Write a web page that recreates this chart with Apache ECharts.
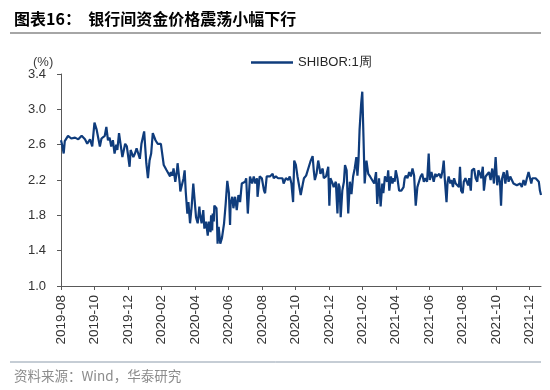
<!DOCTYPE html>
<html>
<head>
<meta charset="utf-8">
<script src="https://cdn.jsdelivr.net/npm/echarts@6/dist/echarts.min.js"></script>
<style>
html, body { margin: 0; padding: 0; background: #fff; }
#chart { width: 550px; height: 390px; }
</style>
</head>
<body>
<div id="chart"></div>
<script>
// SHIBOR 1周
var dates = [
	'2019-08-01','2019-08-03','2019-08-06','2019-08-08','2019-08-14','2019-08-20','2019-08-27',
	'2019-09-02','2019-09-08','2019-09-14','2019-09-18','2019-09-23','2019-09-27',
	'2019-10-01','2019-10-05','2019-10-11','2019-10-14','2019-10-20','2019-10-23','2019-10-26','2019-10-29',
	'2019-11-01','2019-11-04','2019-11-07','2019-11-10','2019-11-12','2019-11-15','2019-11-21','2019-11-26','2019-11-29',
	'2019-12-04','2019-12-06','2019-12-11','2019-12-14','2019-12-17','2019-12-20','2019-12-23','2019-12-26','2019-12-29','2019-12-31',
	'2020-01-04','2020-01-07','2020-01-10','2020-01-13','2020-01-16','2020-01-21','2020-01-25','2020-01-31',
	'2020-02-05','2020-02-10','2020-02-13','2020-02-16','2020-02-17','2020-02-20','2020-02-22','2020-02-25','2020-02-28','2020-02-29',
	'2020-03-04','2020-03-05','2020-03-08','2020-03-11','2020-03-13','2020-03-15','2020-03-18','2020-03-20','2020-03-23','2020-03-26','2020-03-29','2020-03-31',
	'2020-04-03','2020-04-06','2020-04-09','2020-04-10','2020-04-13','2020-04-16','2020-04-18','2020-04-21','2020-04-24','2020-04-26','2020-04-29','2020-04-30',
	'2020-05-02','2020-05-03','2020-05-05','2020-05-06','2020-05-10','2020-05-11','2020-05-12','2020-05-14','2020-05-17','2020-05-20','2020-05-22','2020-05-24','2020-05-27','2020-05-30',
	'2020-06-02','2020-06-04','2020-06-05','2020-06-08','2020-06-10','2020-06-13','2020-06-16','2020-06-19','2020-06-22','2020-06-25','2020-06-28',
	'2020-07-01','2020-07-03','2020-07-06','2020-07-07','2020-07-10','2020-07-14','2020-07-17','2020-07-20','2020-07-23','2020-07-24','2020-07-28',
	'2020-08-01','2020-08-05','2020-08-07','2020-08-10','2020-08-13','2020-08-16','2020-08-21','2020-08-23','2020-08-27','2020-08-31',
	'2020-09-03','2020-09-08','2020-09-10','2020-09-14','2020-09-18','2020-09-21','2020-09-24','2020-09-27','2020-09-29',
	'2020-10-02','2020-10-05','2020-10-08','2020-10-11','2020-10-15','2020-10-17','2020-10-21','2020-10-23','2020-10-27','2020-10-29',
	'2020-11-02','2020-11-04','2020-11-06','2020-11-09','2020-11-12','2020-11-14','2020-11-16','2020-11-18','2020-11-20','2020-11-22','2020-11-26','2020-11-30',
	'2020-12-02','2020-12-04','2020-12-08','2020-12-10','2020-12-14','2020-12-17','2020-12-19','2020-12-21','2020-12-23','2020-12-26','2020-12-29','2020-12-31',
	'2021-01-03','2021-01-06','2021-01-09','2021-01-12','2021-01-15','2021-01-18','2021-01-21','2021-01-23','2021-01-25','2021-01-27','2021-01-30',
	'2021-02-01','2021-02-03','2021-02-05','2021-02-08','2021-02-11','2021-02-14','2021-02-17','2021-02-21','2021-02-24','2021-02-26',
	'2021-03-01','2021-03-04','2021-03-07','2021-03-09','2021-03-12','2021-03-16','2021-03-18','2021-03-20','2021-03-23','2021-03-26','2021-03-28','2021-03-30',
	'2021-04-01','2021-04-04','2021-04-07','2021-04-09','2021-04-11','2021-04-15','2021-04-17','2021-04-19','2021-04-22','2021-04-25','2021-04-28',
	'2021-05-01','2021-05-04','2021-05-07','2021-05-10','2021-05-13','2021-05-16','2021-05-19','2021-05-22','2021-05-25','2021-05-28','2021-05-31',
	'2021-06-02','2021-06-05','2021-06-06','2021-06-09','2021-06-12','2021-06-14','2021-06-16','2021-06-19','2021-06-22','2021-06-25','2021-06-27','2021-06-29',
	'2021-07-02','2021-07-04','2021-07-06','2021-07-09','2021-07-11','2021-07-14','2021-07-16','2021-07-19','2021-07-22','2021-07-25','2021-07-27','2021-07-29',
	'2021-08-01','2021-08-03','2021-08-06','2021-08-08','2021-08-11','2021-08-13','2021-08-16','2021-08-18','2021-08-22','2021-08-25','2021-08-28','2021-08-30',
	'2021-09-02','2021-09-04','2021-09-07','2021-09-09','2021-09-12','2021-09-15','2021-09-18','2021-09-21','2021-09-22','2021-09-24','2021-09-27','2021-09-30',
	'2021-10-03','2021-10-05','2021-10-08','2021-10-10','2021-10-12','2021-10-15','2021-10-18','2021-10-21','2021-10-24','2021-10-27','2021-10-30',
	'2021-11-02','2021-11-05','2021-11-08','2021-11-11','2021-11-14','2021-11-17','2021-11-20','2021-11-23','2021-11-26','2021-11-29',
	'2021-12-01','2021-12-04','2021-12-06','2021-12-09','2021-12-12','2021-12-15','2021-12-18','2021-12-20','2021-12-22'
];
var values = [
	2.65,2.60,2.50,2.64,2.70,2.67,2.68,
	2.66,2.70,2.66,2.61,2.66,2.58,
	2.85,2.77,2.58,2.67,2.70,2.80,2.65,2.68,
	2.58,2.65,2.50,2.60,2.54,2.73,2.46,2.61,2.58,
	2.35,2.54,2.46,2.50,2.56,2.58,2.44,2.61,2.60,2.75,
	2.39,2.22,2.42,2.50,2.73,2.65,2.61,2.61,
	2.37,2.31,2.33,2.24,2.29,2.25,2.33,2.18,2.31,2.39,
	2.16,2.07,2.05,2.22,2.31,2.07,1.82,1.95,1.71,1.90,2.16,2.18,
	1.78,1.71,1.90,1.82,1.71,1.86,1.65,1.73,1.57,1.73,1.61,1.80,
	1.63,1.82,1.73,1.91,1.88,1.71,1.48,1.67,1.48,1.54,1.56,1.71,1.93,2.19,
	2.05,1.69,1.93,2.01,1.88,2.01,1.86,2.03,1.95,2.16,2.16,
	2.18,2.22,1.82,1.80,2.24,2.16,2.24,2.16,2.22,2.01,2.24,
	2.22,2.08,2.05,2.24,2.22,2.24,2.27,2.22,2.24,2.22,
	2.24,2.22,2.16,2.22,2.20,2.24,2.16,1.95,2.42,
	2.37,2.24,2.22,2.03,2.16,2.22,2.25,2.24,2.37,2.41,
	2.47,2.31,2.20,2.27,2.42,2.35,2.27,2.25,2.33,2.22,2.24,2.35,
	1.91,2.22,2.16,2.12,2.18,1.82,2.16,2.12,1.78,2.08,2.18,2.37,
	2.31,1.82,2.18,2.04,2.24,2.33,2.46,2.25,2.42,2.77,3.07,
	3.20,2.69,2.16,2.42,2.27,2.24,2.24,2.16,2.29,1.93,
	2.22,1.90,2.16,2.05,2.24,2.18,2.31,2.08,2.24,2.16,2.22,2.18,
	2.31,2.22,2.08,2.07,2.08,2.12,2.22,2.25,2.22,2.29,2.24,
	2.33,2.25,1.91,2.12,2.18,2.24,2.27,2.18,2.22,2.18,2.50,
	2.20,2.29,2.27,2.18,2.27,2.24,2.22,2.27,2.22,2.31,2.42,2.20,
	1.95,2.18,2.24,2.16,2.20,2.12,2.22,2.16,2.18,2.12,2.35,2.08,
	2.05,2.18,2.22,2.20,2.14,2.22,2.08,2.31,2.33,2.22,2.18,2.31,
	2.27,2.22,2.35,2.08,2.24,2.22,2.29,2.20,2.25,2.33,2.16,2.46,
	2.14,2.25,2.18,1.91,2.22,2.29,2.16,2.31,2.18,2.24,2.20,
	2.16,2.14,2.14,2.12,2.16,2.12,2.20,2.14,2.22,2.29,
	2.31,2.16,2.22,2.20,2.22,2.20,2.18,2.08,2.03
];
var tickLabels = ['2019-08','2019-10','2019-12','2020-02','2020-04','2020-06','2020-08','2020-10',
	'2020-12','2021-02','2021-04','2021-06','2021-08','2021-10','2021-12'];
var yTicks = [1.0, 1.4, 1.8, 2.2, 2.6, 3.0, 3.4];
var seriesName = 'SHIBOR:1周';
var startDate = '2019-08-01';
var endDate = '2021-12-22';

// 日期 -> 自起始月起的月数(含月内小数)
function toMonths(s) {
	var p = s.split('-');
	var y = +p[0], m = +p[1], d = +p[2];
	var dim = new Date(y, m, 0).getDate();
	var s0 = startDate.split('-');
	return (y - +s0[0]) * 12 + (m - +s0[1]) + (d - 1) / dim;
}

var lineData = dates.map(function (d, i) { return [toMonths(d), values[i]]; });

var chart = echarts.init(document.getElementById('chart'), null, { renderer: 'canvas' });

var option = {
	animation: false,
	backgroundColor: '#fff',
	title: [
		{
			text: '图表16：  银行间资金价格震荡小幅下行',
			left: 9, top: 6,
			textStyle: { fontFamily: 'Noto Sans CJK SC', fontSize: 16, fontWeight: 'bold', color: '#000' }
		},
		{
			text: '资料来源：Wind，华泰研究',
			left: 9, top: 364,
			textStyle: { fontFamily: 'Noto Sans CJK SC', fontSize: 13.5, fontWeight: 'normal', color: '#8c8c8c' }
		},
		{
			text: '(%)',
			left: 28, top: 51,
			textStyle: { fontFamily: 'Liberation Sans', fontSize: 13, fontWeight: 'normal', color: '#404040' }
		}
	],
	graphic: [
		{ type: 'line', shape: { x1: 10, y1: 33, x2: 541, y2: 33 }, style: { stroke: '#a6a6a6', lineWidth: 2 } },
		{ type: 'line', shape: { x1: 10, y1: 362, x2: 541, y2: 362 }, style: { stroke: '#8c9bab', lineWidth: 1 } }
	],
	legend: {
		data: [seriesName],
		left: 246, top: 51,
		icon: 'rect',
		itemWidth: 42, itemHeight: 2.5,
		textStyle: { fontFamily: 'Liberation Sans', fontSize: 13, color: '#262626' }
	},
	grid: { left: 61, right: 9, top: 74, bottom: 104, containLabel: false },
	xAxis: {
		type: 'value',
		min: 0,
		max: toMonths(endDate),
		interval: 2,
		axisLine: { lineStyle: { color: '#595959', width: 1 } },
		axisTick: { show: true, length: 4, lineStyle: { color: '#595959' } },
		axisLabel: {
			rotate: 90,
			margin: 9,
			showMaxLabel: false,
			fontFamily: 'Liberation Sans', fontSize: 13.5, color: '#333',
			formatter: function (v) {
				var k = Math.round(v / 2);
				return (Math.abs(v - k * 2) < 1e-6 && tickLabels[k]) ? tickLabels[k] : '';
			}
		},
		splitLine: { show: false }
	},
	yAxis: {
		type: 'value',
		min: yTicks[0],
		max: yTicks[yTicks.length - 1],
		interval: 0.4,
		axisLine: { show: true, lineStyle: { color: '#595959', width: 1 } },
		axisTick: { show: true, length: 4, lineStyle: { color: '#595959' } },
		axisLabel: {
			fontFamily: 'Liberation Sans', fontSize: 13, color: '#333', margin: 15,
			formatter: function (v) { return v.toFixed(1); }
		},
		splitLine: { show: false }
	},
	series: [
		{
			name: seriesName,
			type: 'line',
			data: lineData,
			symbol: 'none',
			lineStyle: { color: '#0f3c7c', width: 2.2 },
			itemStyle: { color: '#0f3c7c' }
		}
	]
};
chart.setOption(option);
</script>
</body>
</html>
